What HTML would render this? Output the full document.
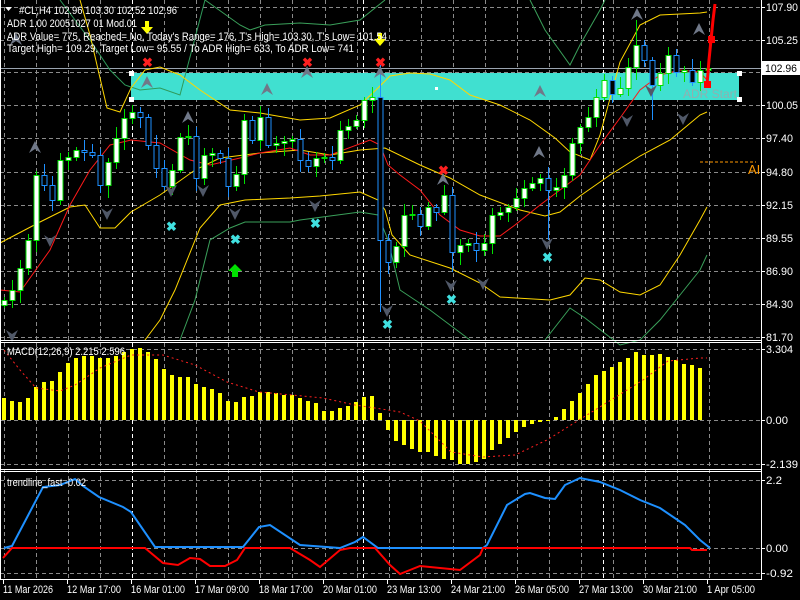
<!DOCTYPE html>
<html><head><meta charset="utf-8"><style>
html,body{margin:0;padding:0;background:#000;}
svg{display:block;font-family:"Liberation Sans",sans-serif;}
</style></head><body>
<svg id="c" width="800" height="600" xmlns="http://www.w3.org/2000/svg">
<rect width="800" height="600" fill="#000"/>
<g id="grid" stroke="#8a8a8a" stroke-dasharray="4,3" stroke-width="1"></g>
<rect x="131" y="73" width="608" height="27" fill="#40e0d0"/>
<text x="683" y="98" font-size="12" fill="#8fb0b0" textLength="54" lengthAdjust="spacingAndGlyphs">ADR Start</text>
<rect x="129" y="71" width="5" height="5" fill="#fff"/><rect x="129" y="97" width="5" height="5" fill="#fff"/>
<rect x="737" y="71" width="5" height="5" fill="#fff"/><rect x="737" y="97" width="5" height="5" fill="#fff"/>
<rect x="435" y="87" width="3" height="3" fill="#fff"/>
<line x1="0" y1="68.5" x2="761" y2="68.5" stroke="#9aa4b0" stroke-width="1"/>
<polyline fill="none" stroke="#2e9a5a" stroke-width="1" points="60,0 75,20 90,40 100,55 110,70 125,85 140,90 160,88 180,95 205,0"/>
<polyline fill="none" stroke="#3aa05a" stroke-width="1" points="205,0 240,25 250,30 265,25 300,23 330,25 360,20 385,0"/>
<polyline fill="none" stroke="#3aa05a" stroke-width="1" points="530,0 545,30 570,65 580,45 600,10 605,0"/>
<polyline fill="none" stroke="#3aa05a" stroke-width="1" points="180,340 195,300 210,240 230,228 245,222 290,222 300,220 360,212 378,215 388,240 400,290 430,310 470,340"/>
<polyline fill="none" stroke="#3aa05a" stroke-width="1" points="545,340 570,308 585,318 620,345 640,340 660,320 680,295 700,270 707,255"/>
<polyline fill="none" stroke="#ffd700" stroke-width="1" points="80,0 90,35 107,108 120,112 131,88 145,70 160,67 180,75 200,90 230,110 260,113 300,120 330,118 360,105 378,88 390,76 410,73 430,74 450,80 470,95 500,105 530,120 555,138 570,152 590,160 600,135 620,62 640,25 660,15 700,13 707,12"/>
<polyline fill="none" stroke="#ffd700" stroke-width="1" points="0,243 40,222 70,207 85,205 100,228 115,228 131,212 160,195 195,170 220,158 260,153 300,150 330,155 360,150 385,148 420,165 450,178 480,195 520,210 545,216 560,212 580,196 610,175 640,156 670,140 700,115 707,112"/>
<polyline fill="none" stroke="#ffd700" stroke-width="1" points="145,340 160,320 175,290 200,228 220,205 245,200 290,198 320,196 360,192 378,200 385,210 392,235 410,255 450,268 480,283 500,297 550,300 570,295 585,278 600,280 620,292 640,295 660,285 680,255 700,220 707,207"/>
<polyline fill="none" stroke="#ff1a1a" stroke-width="1" points="0,290 20,292 50,250 70,205 90,170 110,145 131,140 160,143 190,160 210,165 240,158 260,153 290,148 310,155 330,155 370,140 380,145 388,165 400,175 420,190 440,215 460,230 480,236 500,236 515,225 540,205 560,190 580,175 600,145 620,118 640,90 660,75 680,70 700,72 707,80"/>
<line x1="700" y1="162" x2="756" y2="162" stroke="#ff9900" stroke-dasharray="3,2"/>
<text x="748" y="174" font-size="13" fill="#ff9900">AI</text>
<g id="candles"></g>
<g id="marks"></g>
<polyline fill="none" stroke="#ff0000" stroke-width="3" points="707,85 709,60 711,40 713,20 715,4"/>
<rect x="704" y="81" width="7" height="7" fill="#ff0000"/><rect x="708" y="36" width="7" height="7" fill="#ff0000"/>
<g font-size="11" fill="#fff" lengthAdjust="spacingAndGlyphs">
<text x="19" y="14" textLength="158" lengthAdjust="spacingAndGlyphs">#CL,H4  102.96 103.30 102.52 102.96</text>
<text x="7" y="27" textLength="130" lengthAdjust="spacingAndGlyphs">ADR 1.00 20051027 01 Mod.01</text>
<text x="7" y="40" textLength="380" lengthAdjust="spacingAndGlyphs">ADR Value= 775, Reached= No, Today's Range= 176, T's High= 103.30, T's Low= 101.54</text>
<text x="7" y="52" textLength="347" lengthAdjust="spacingAndGlyphs">Target High= 109.29, Target Low= 95.55 / To ADR High= 633, To ADR Low= 741</text>
</g>
<polygon points="5,7 12,7 8.5,11" fill="#fff"/>
<g id="macd"></g>
<polyline fill="none" stroke="#ff2020" stroke-dasharray="2,3" points="4,350 20,370 36,388 60,391 75,385 100,368 131,355 163,355 195,365 227,382 259,392 292,395 323,398 355,405 388,410 400,412 420,421 451,452 483,457 515,455 547,440 579,420 611,400 643,380 668,361 700,358 707,358"/>
<text x="7" y="355" font-size="11" fill="#fff" textLength="118" lengthAdjust="spacingAndGlyphs">MACD(12,26,9) 2.215 2.596</text>
<polyline fill="none" stroke="#1e90ff" stroke-width="2" points="4,548 12,546 43,487 52,486 60,485 75,479 83,486 99,497 123,507 131,512 155,547 243,547 259,527 270,525 300,545 340,548 355,542 363,537 378,548 483,548 487,545 507,505 525,494 530,493 545,498 555,499 565,485 580,478 600,482 620,490 640,500 660,508 685,525 700,540 710,548"/>
<polyline fill="none" stroke="#ff0000" stroke-width="2" points="3,558 12,548 145,548 163,563 178,565 190,558 200,559 210,566 225,566 237,560 245,548 290,548 310,560 320,567 340,550 350,548 375,548 390,565 400,574 420,566 440,568 460,570 480,555 483,548 690,548 692,550 707,550"/>
<text x="7" y="486" font-size="11" fill="#fff" textLength="79" lengthAdjust="spacingAndGlyphs">trendline_fast -0.02</text>
<g fill="none" stroke="#fff" stroke-width="1">
<line x1="0.5" y1="0" x2="0.5" y2="580"/>
<line x1="761.5" y1="0" x2="761.5" y2="580"/>
<line x1="0" y1="340.5" x2="762" y2="340.5"/><line x1="0" y1="342.5" x2="762" y2="342.5"/>
<line x1="0" y1="469.5" x2="762" y2="469.5"/><line x1="0" y1="471.5" x2="762" y2="471.5"/>
<line x1="0" y1="579.5" x2="762" y2="579.5"/>
</g>
<g id="axis" font-size="11" fill="#fff"></g>
<rect x="762" y="61" width="38" height="14" fill="#fff"/>
<text x="765" y="72" font-size="11" fill="#000" textLength="32" lengthAdjust="spacingAndGlyphs">102.96</text>
</svg>
<script>
var NS="http://www.w3.org/2000/svg";
function el(p,t,a,txt){var e=document.createElementNS(NS,t);for(var k in a)e.setAttribute(k,a[k]);if(txt!==undefined)e.textContent=txt;document.getElementById(p).appendChild(e);return e;}
var hy=[7,40,72,105,138,172,205,238,271,304,337];
hy.forEach(function(y){el("grid","line",{x1:0,y1:y+.5,x2:761,y2:y+.5});});
[349,420,464].forEach(function(y){el("grid","line",{x1:0,y1:y+.5,x2:761,y2:y+.5});});
[480,548,573].forEach(function(y){el("grid","line",{x1:0,y1:y+.5,x2:761,y2:y+.5});});
for(var x=4;x<=740;x+=32.05){var xx=Math.round(x)+.5;var w=(Math.abs(x-132)<2);el("grid","line",{x1:xx,y1:0,x2:xx,y2:579,stroke:w?"#fff":"#8a8a8a"});}
[363.5,603.5].forEach(function(x){el("grid","line",{x1:x,y1:0,x2:x,y2:579,stroke:"#fff"});});
var C=[300,290,268,240,175,185,200,160,157,150,152,155,185,162,138,118,112,117,145,168,186,170,137,136,178,155,153,158,186,174,120,140,117,145,143,141,139,160,166,158,157,160,130,126,120,100,97,240,262,246,215,214,226,207,212,195,252,245,243,250,243,215,212,207,198,188,183,178,190,187,175,143,127,117,97,80,94,88,67,45,60,85,73,55,72,70,82,70,68];
var prev=305;
for(var i=0;i<C.length;i++){var x=4+8*i,o=prev,c=C[i];if(Math.abs(o-c)<1)c=o+1;
var w1=3+(i*7%9),w2=3+(i*5%11);var hi=Math.min(o,c)-w1,lo=Math.max(o,c)+w2;
if(i==47){hi=65;lo=312;}if(i==79){hi=20;}if(i==81){lo=120;}if(i==68){lo=240;}if(i==56){lo=272;}
var bull=c<o;var col=bull?"#00e000":"#1e90ff";
el("candles","line",{x1:x+.5,y1:hi,x2:x+.5,y2:lo,stroke:col});
el("candles","rect",{x:x-2,y:Math.min(o,c)+.5,width:5,height:Math.max(1,Math.abs(o-c)),fill:bull?"#fff":"#000",stroke:col,"stroke-width":1});
prev=c;}
var M=[398,401,402,398,387,382,381,372,363,358,356,356,358,358,356,352,349,348,352,359,369,375,377,377,384,387,389,393,401,402,397,396,392,392,393,395,395,398,401,403,411,411,408,406,402,397,396,413,430,441,445,449,452,452,456,459,460,464,464,462,459,450,444,438,432,427,424,422,420,417,409,401,393,384,375,371,367,362,358,352,355,355,354,357,360,364,365,368];
for(var i=0;i<M.length;i++){var x=4+8*i;var y=M[i];el("macd","rect",{x:x-2,y:Math.min(y,420),width:4,height:Math.max(1,Math.abs(420-y)),fill:"#ffff00"});}
function X(x,y,c){el("marks","text",{x:x-5,y:y+5,"font-size":"13","font-weight":"bold",fill:c},"\u2716");}
X(147,62,"#ff2020");X(307,62,"#ff2020");X(380,62,"#ff2020");X(443,170,"#ff2020");
[[171,226],[235,239],[315,223],[387,324],[451,299],[547,257]].forEach(function(p){X(p[0],p[1],"#40e0e0");});
function ar(x,y,dir,c){var d=dir>0?"M"+x+","+(y-7)+" L"+(x+6)+","+(y+5)+" L"+x+","+(y+1)+" L"+(x-6)+","+(y+5)+"Z":"M"+x+","+(y+7)+" L"+(x+6)+","+(y-5)+" L"+x+","+(y-1)+" L"+(x-6)+","+(y-5)+"Z";el("marks","path",{d:d,fill:c});}
[[35,148],[147,83],[188,118],[267,90],[307,73],[380,73],[443,180],[539,153],[540,92],[637,15],[699,30],[16,40]].forEach(function(p){ar(p[0],p[1],1,"#707888");});
[[50,240],[107,213],[171,190],[203,190],[235,213],[315,205],[387,310],[451,285],[483,283],[547,243],[627,120],[651,90],[683,118],[12,335]].forEach(function(p){ar(p[0],p[1],-1,"#505868");});
function ya(x,y){el("marks","path",{d:"M"+(x-2)+","+(y-9)+" h4 v6 h4 l-6,7 l-6,-7 h4z",fill:"#ffff00"});}
ya(147,30);ya(380,42);
el("marks","path",{d:"M235,264 l7,7 h-4 v6 h-6 v-6 h-4z",fill:"#00e000"});
var lab=[["107.90",7],["105.25",40],["100.05",105],["97.40",138],["94.80",172],["92.15",205],["89.55",238],["86.90",271],["84.30",304],["81.70",337],["3.304",349],["0.00",420],["-2.139",464],["2.2",480],["0.00",548],["-0.92",573]];
lab.forEach(function(l){el("axis","line",{x1:761,y1:l[1]+.5,x2:765,y2:l[1]+.5,stroke:"#fff"});var t=el("axis","text",{x:766,y:l[1]+4},l[0]);t.setAttribute("textLength",Math.round(l[0].length*5.4));t.setAttribute("lengthAdjust","spacingAndGlyphs");});
var dl=[["11 Mar 2026",3],["12 Mar 17:00",67],["16 Mar 01:00",131],["17 Mar 09:00",195],["18 Mar 17:00",259],["20 Mar 01:00",323],["23 Mar 13:00",387],["24 Mar 21:00",451],["26 Mar 05:00",515],["27 Mar 13:00",579],["30 Mar 21:00",643],["1 Apr 05:00",707]];
dl.forEach(function(d){el("axis","line",{x1:d[1]+.5,y1:580,x2:d[1]+.5,y2:584,stroke:"#fff"});el("axis","text",{x:d[1],y:593,textLength:(d[0].length==11&&d[0][0]=="1"&&d[0][1]==" ")?48:(d[0].length==11?50:54),lengthAdjust:"spacingAndGlyphs"},d[0]);});
</script>
</body></html>
